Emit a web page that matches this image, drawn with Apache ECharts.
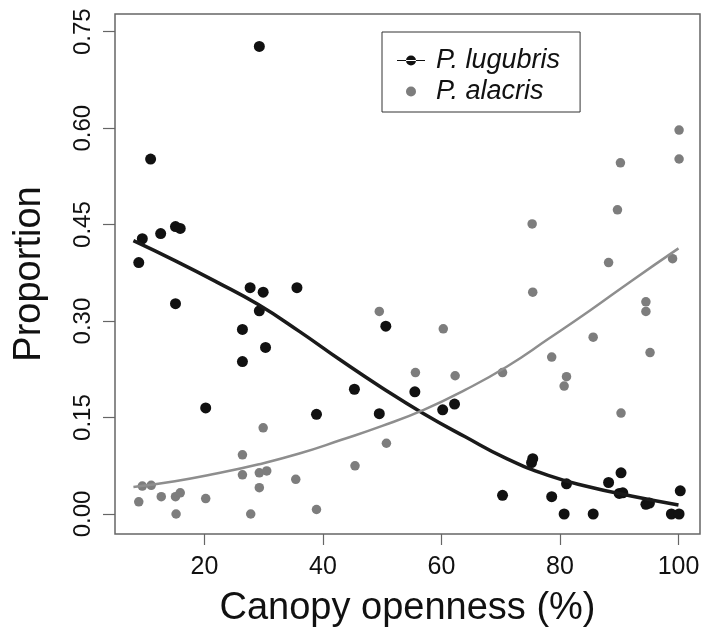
<!DOCTYPE html>
<html>
<head>
<meta charset="utf-8">
<script src="https://cdn.jsdelivr.net/npm/echarts@6/dist/echarts.min.js"></script>
<style>html,body{margin:0;padding:0;background:#fff}#c{width:703px;height:634px}</style>
</head>
<body>
<div id="c"></div>
<script>
// P. lugubris observations
var lugX = [29.25, 10.9, 9.5, 12.6, 15.1, 15.9, 8.9, 15.1, 27.7, 29.9, 35.6, 29.25, 26.4, 30.3, 26.4, 20.2, 38.9, 45.3, 49.5, 55.5, 60.2, 62.2, 50.6, 70.3, 75.4, 75.2, 78.6, 80.7, 81.1, 85.6, 88.2, 90.3, 90.0, 90.6, 94.5, 95.1, 100.3, 98.8, 100.1];
var lugY = [0.727, 0.552, 0.428, 0.436, 0.447, 0.444, 0.391, 0.327, 0.352, 0.345, 0.352, 0.316, 0.287, 0.259, 0.237, 0.165, 0.155, 0.194, 0.156, 0.190, 0.162, 0.171, 0.292, 0.029, 0.086, 0.080, 0.027, 0.0, 0.047, 0.0, 0.049, 0.064, 0.032, 0.033, 0.015, 0.017, 0.036, 0.0, 0.0];
// P. alacris observations
var alaX = [100.1, 100.1, 90.2, 89.7, 75.3, 88.2, 75.4, 99.0, 94.5, 94.5, 85.6, 95.2, 78.6, 81.1, 80.7, 90.3, 70.3, 49.5, 60.3, 55.6, 62.3, 50.7, 45.4, 29.9, 26.4, 26.4, 29.25, 30.5, 29.25, 35.4, 38.9, 27.8, 15.2, 20.2, 12.7, 15.1, 15.9, 8.9, 9.5, 11.0];
var alaY = [0.597, 0.552, 0.546, 0.473, 0.451, 0.391, 0.345, 0.397, 0.330, 0.315, 0.275, 0.251, 0.244, 0.2135, 0.199, 0.157, 0.220, 0.315, 0.288, 0.220, 0.215, 0.110, 0.075, 0.134, 0.092, 0.061, 0.064, 0.067, 0.041, 0.054, 0.007, 0.0, 0.0, 0.024, 0.027, 0.027, 0.033, 0.019, 0.0435, 0.0446];
// fitted curves
var fitX    = [8, 15, 22, 29, 36, 43, 50, 57, 64, 71, 78, 85, 92, 100];
var lugFitY = [0.425, 0.394, 0.361, 0.326, 0.284, 0.239, 0.196, 0.156, 0.120, 0.086, 0.060, 0.042, 0.028, 0.014];
var alaFitY = [0.042, 0.051, 0.063, 0.077, 0.094, 0.115, 0.137, 0.162, 0.193, 0.229, 0.272, 0.316, 0.362, 0.413];
// ticks
var xTicks = [20, 40, 60, 80, 100];
var yTicks = [0, 0.15, 0.30, 0.45, 0.60, 0.75];
var seriesNames = ['P. lugubris', 'P. alacris'];

function zip(a, b) { return a.map(function (v, i) { return [v, b[i]]; }); }

var FONT = 'Liberation Sans, Arial, sans-serif';
var chart = echarts.init(document.getElementById('c'), null, { renderer: 'canvas' });
chart.setOption({
  animation: false,
  backgroundColor: '#fff',
  grid: { left: 115, top: 14, right: 3, bottom: 100, show: true, borderColor: '#666', borderWidth: 1.5, containLabel: false },
  xAxis: {
    type: 'value', min: 4.89, max: 103.63,
    name: 'Canopy openness (%)', nameLocation: 'middle', nameGap: 56,
    nameTextStyle: { fontFamily: FONT, fontSize: 38, color: '#111' },
    axisLine: { show: false, onZero: false },
    splitLine: { show: false },
    axisTick: { show: true, inside: false, length: 11, customValues: xTicks, lineStyle: { color: '#666', width: 1.2 } },
    axisLabel: { customValues: xTicks, fontFamily: FONT, fontSize: 25, color: '#111', margin: 21 }
  },
  yAxis: {
    type: 'value', min: -0.0311, max: 0.7775,
    name: 'Proportion', nameLocation: 'middle', nameGap: 66,
    nameTextStyle: { fontFamily: FONT, fontSize: 38, color: '#111' },
    axisLine: { show: false, onZero: false },
    splitLine: { show: false },
    axisTick: { show: true, inside: false, length: 12, customValues: yTicks, lineStyle: { color: '#666', width: 1.2 } },
    axisLabel: { customValues: yTicks, rotate: 90, fontFamily: FONT, fontSize: 24, color: '#111', margin: 20,
      formatter: function (v) { return v.toFixed(2); } }
  },
  legend: {
    orient: 'vertical', left: 382, top: 32,
    padding: [15, 20, 7, 15], itemGap: 4,
    borderColor: '#333', borderWidth: 1, backgroundColor: '#fff',
    itemWidth: 28, itemHeight: 10,
    textStyle: { fontFamily: FONT, fontSize: 27, fontStyle: 'italic', color: '#111', padding: [0, 0, 0, 6] },
    data: [
      { name: seriesNames[0], icon: 'path://M0,4.5h28v1h-28z M14,0a5,5 0 1,0 0.001,0z', itemStyle: { color: '#111' } },
      { name: seriesNames[1], icon: 'circle', itemStyle: { color: '#7d7d7d' } }
    ]
  },
  series: [
    { name: seriesNames[0], type: 'scatter', data: zip(lugX, lugY), symbol: 'circle', symbolSize: 11,
      itemStyle: { color: '#111', opacity: 1 }, z: 3 },
    { name: seriesNames[1], type: 'scatter', data: zip(alaX, alaY), symbol: 'circle', symbolSize: 9.5,
      itemStyle: { color: '#7d7d7d', opacity: 1 }, z: 2 },
    { name: 'fit1', type: 'line', data: zip(fitX, lugFitY), smooth: 0.5, showSymbol: false, symbol: 'none',
      lineStyle: { color: '#1a1a1a', width: 3.5 }, z: 4 },
    { name: 'fit2', type: 'line', data: zip(fitX, alaFitY), smooth: 0.5, showSymbol: false, symbol: 'none',
      lineStyle: { color: '#8e8e8e', width: 2.5 }, z: 4 }
  ]
});
</script>
</body>
</html>
